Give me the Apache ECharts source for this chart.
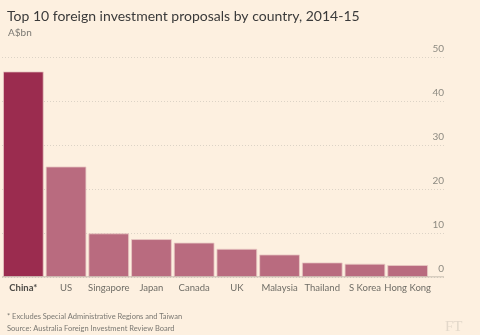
<!DOCTYPE html>
<html><head><meta charset="utf-8">
<script src="https://cdn.jsdelivr.net/npm/echarts@6/dist/echarts.min.js"></script>
<style>html,body{margin:0;padding:0;background:#fdf0e0;}#c{width:480px;height:335px;}</style>
</head><body><div id="c"></div>
<script>
const categories = ['China*','US','Singapore','Japan','Canada','UK','Malaysia','Thailand','S Korea','Hong Kong'];
const values = [46.7, 25.1, 9.9, 8.6, 7.8, 6.4, 5.1, 3.3, 3.0, 2.7];
const yTicks = [0, 10, 20, 30, 40, 50];

const chart = echarts.init(document.getElementById('c'), null, {renderer:'canvas'});
const font = 'Lato, "Open Sans", sans-serif';
chart.setOption({
  backgroundColor: '#fdf0e0',
  animation: false,
  title: [
    {text: 'Top 10 foreign investment proposals by country, 2014-15', left: 2, top: 4,
     textStyle: {fontFamily: font, fontSize: 14, fontWeight: 'normal', color: '#3a3a3a'}},
    {text: 'A$bn', left: 3, top: 23, textStyle: {fontFamily: font, fontSize: 10, fontWeight: 'normal', color: '#7a7872'}},
    {text: '* Excludes Special Administrative Regions and Taiwan', left: 2, top: 308,
     textStyle: {fontFamily: font, fontSize: 7.5, fontWeight: 'normal', color: '#7a7872'}},
    {text: 'Source: Australia Foreign Investment Review Board', left: 2, top: 320,
     textStyle: {fontFamily: font, fontSize: 7.5, fontWeight: 'normal', color: '#7a7872'}},
    {text: 'FT', left: 440, top: 315, textStyle: {fontFamily: '"Liberation Serif", serif', fontSize: 15, fontWeight: 'normal', color: '#e3d8ca'}}
  ],
  grid: [
    {left: 2, right: 51, top: 57, bottom: 58},
    {left: 2, right: 36, top: 57, bottom: 58}
  ],
  xAxis: [
    {type: 'category', gridIndex: 0, data: categories,
     axisLine: {show: false}, axisTick: {show: false},
     axisLabel: {interval: 0, margin: 6, fontFamily: font, fontSize: 9.5, color: '#6f6d66',
       formatter: function(v){ return v === 'China*' ? '{b|' + v + '}' : v; },
       rich: {b: {fontWeight: 'bold', fontFamily: font, fontSize: 9.5, color: '#4e4c47'}}}},
    {type: 'value', gridIndex: 1, show: false, min: 0, max: 1}
  ],
  yAxis: [
    {type: 'value', gridIndex: 0, min: 0, max: 50, interval: 10, show: false},
    {type: 'value', gridIndex: 1, min: 0, max: 50, interval: 10, position: 'right',
     axisLine: {show: false}, axisTick: {show: false},
     axisLabel: {inside: true, margin: 0, verticalAlign: 'bottom', fontFamily: font, fontSize: 10, color: '#8e8b82', padding: [0,0,3,0]},
     splitLine: {show: true, lineStyle: {color: '#dcd3c6', type: [1, 2], width: 1}}}
  ],
  series: [
    {type: 'bar', xAxisIndex: 0, yAxisIndex: 0, data: values.map((v,i)=>({value: v, itemStyle: {color: i===0 ? '#9b2c4f' : '#b96b7f'}})),
     barCategoryGap: '5%', itemStyle: {borderColor: '#e9c9c4', borderWidth: 0.8}, z: 3},
    {type: 'line', xAxisIndex: 1, yAxisIndex: 1, data: [[0,0],[1,0]], symbol: 'none', silent: true,
     lineStyle: {color: '#b3ada1', width: 1}, z: 4}
  ]
});
</script></body></html>
